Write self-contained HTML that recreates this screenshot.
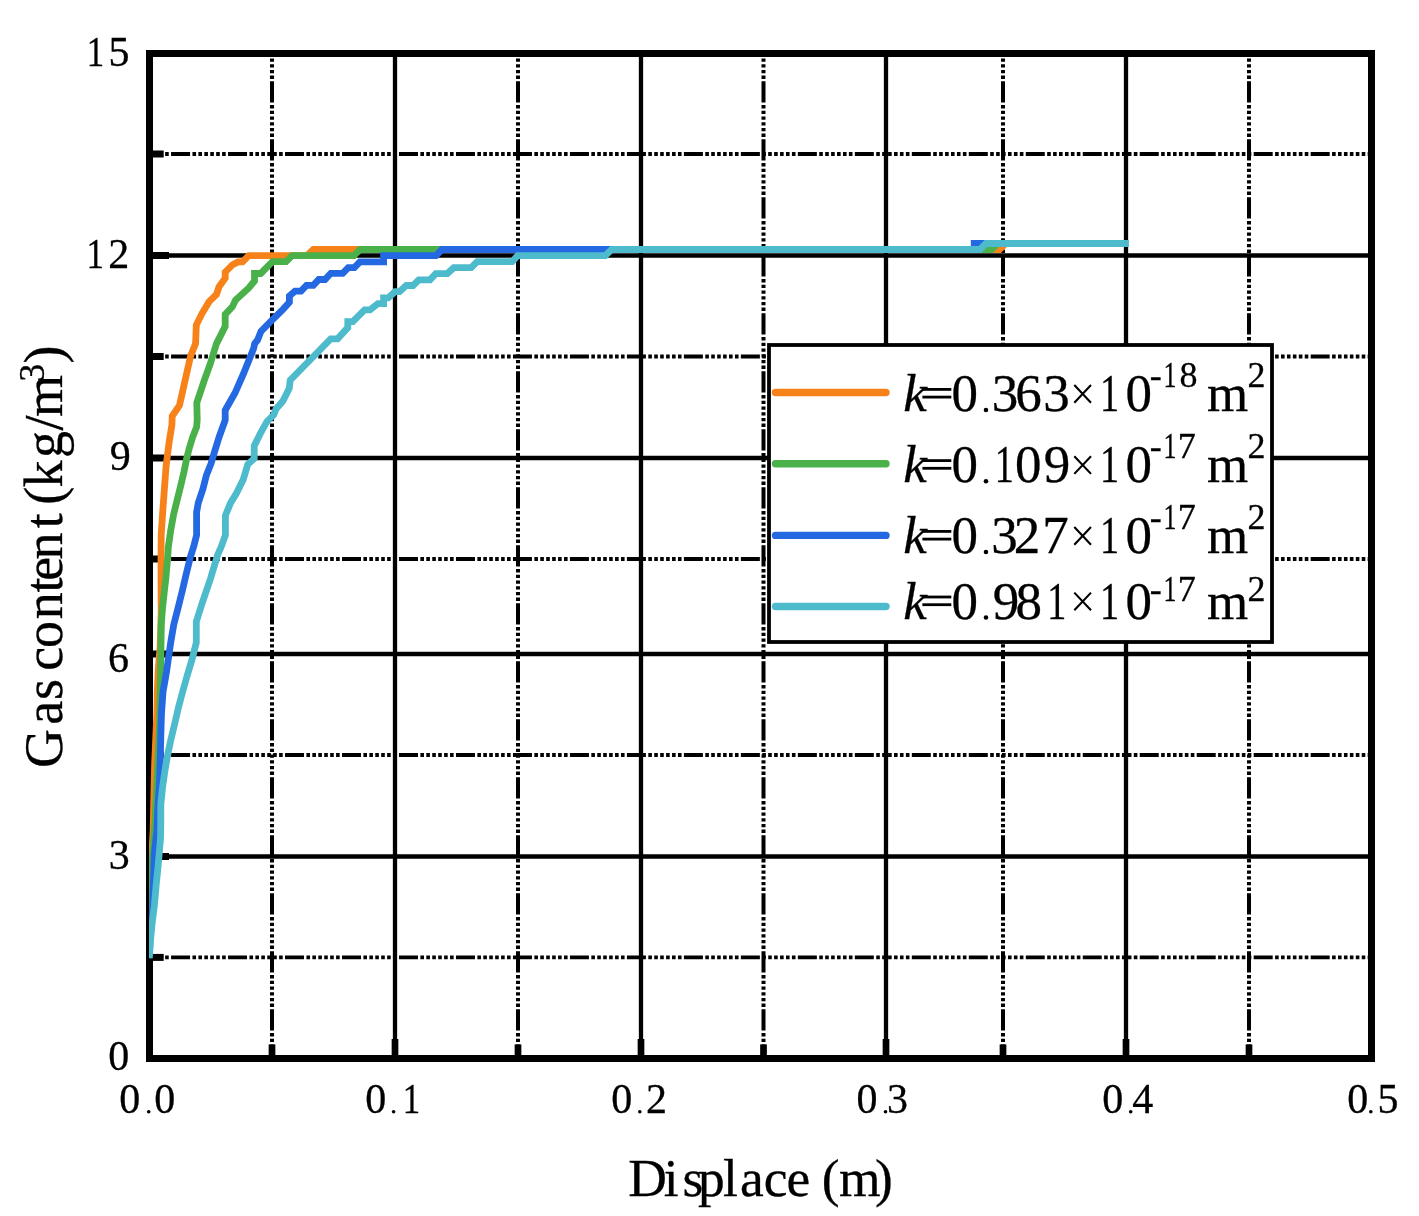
<!DOCTYPE html>
<html><head><meta charset="utf-8"><title>Gas content vs displace</title>
<style>
html,body{margin:0;padding:0;background:#fff;}
body{width:1419px;height:1216px;overflow:hidden;}
svg{display:block;will-change:transform;}
text{font-family:"Liberation Serif",serif;fill:#000;stroke:#000;stroke-width:0.3px;}
</style></head>
<body>
<svg width="1419" height="1216" viewBox="0 0 1419 1216">
<rect x="0" y="0" width="1419" height="1216" fill="#fff"/>
<line x1="149.5" y1="154" x2="1371.5" y2="154" stroke="#000" stroke-width="3.8" stroke-dasharray="19 2.4 3.6 2.33 3.6 2.33 3.6 2.33 3.6 2.33 3.6 2.33 3.6 2.33" stroke-dashoffset="35.41"/>
<line x1="149.5" y1="356.5" x2="1371.5" y2="356.5" stroke="#000" stroke-width="3.8" stroke-dasharray="19 2.4 3.6 2.33 3.6 2.33 3.6 2.33 3.6 2.33 3.6 2.33 3.6 2.33" stroke-dashoffset="35.41"/>
<line x1="149.5" y1="559" x2="1371.5" y2="559" stroke="#000" stroke-width="3.8" stroke-dasharray="19 2.4 3.6 2.33 3.6 2.33 3.6 2.33 3.6 2.33 3.6 2.33 3.6 2.33" stroke-dashoffset="35.41"/>
<line x1="149.5" y1="755" x2="1371.5" y2="755" stroke="#000" stroke-width="3.8" stroke-dasharray="19 2.4 3.6 2.33 3.6 2.33 3.6 2.33 3.6 2.33 3.6 2.33 3.6 2.33" stroke-dashoffset="35.41"/>
<line x1="149.5" y1="957.4" x2="1371.5" y2="957.4" stroke="#000" stroke-width="3.8" stroke-dasharray="19 2.4 3.6 2.33 3.6 2.33 3.6 2.33 3.6 2.33 3.6 2.33 3.6 2.33" stroke-dashoffset="35.41"/>
<line x1="272" y1="53.5" x2="272" y2="1058.5" stroke="#000" stroke-width="4" stroke-dasharray="21.3 2.5 3.3 2.4 3.3 2.4 3.3 2.4 3.3 2.4 3.3 2.4 3.3 2.4" stroke-dashoffset="30.20"/>
<line x1="518" y1="53.5" x2="518" y2="1058.5" stroke="#000" stroke-width="4" stroke-dasharray="21.3 2.5 3.3 2.4 3.3 2.4 3.3 2.4 3.3 2.4 3.3 2.4 3.3 2.4" stroke-dashoffset="30.20"/>
<line x1="763.5" y1="53.5" x2="763.5" y2="1058.5" stroke="#000" stroke-width="4" stroke-dasharray="21.3 2.5 3.3 2.4 3.3 2.4 3.3 2.4 3.3 2.4 3.3 2.4 3.3 2.4" stroke-dashoffset="30.20"/>
<line x1="1003" y1="53.5" x2="1003" y2="1058.5" stroke="#000" stroke-width="4" stroke-dasharray="21.3 2.5 3.3 2.4 3.3 2.4 3.3 2.4 3.3 2.4 3.3 2.4 3.3 2.4" stroke-dashoffset="30.20"/>
<line x1="1249" y1="53.5" x2="1249" y2="1058.5" stroke="#000" stroke-width="4" stroke-dasharray="21.3 2.5 3.3 2.4 3.3 2.4 3.3 2.4 3.3 2.4 3.3 2.4 3.3 2.4" stroke-dashoffset="30.20"/>
<line x1="149.5" y1="255.5" x2="1371.5" y2="255.5" stroke="#000" stroke-width="4.6"/>
<line x1="149.5" y1="458" x2="1371.5" y2="458" stroke="#000" stroke-width="4.6"/>
<line x1="149.5" y1="654" x2="1371.5" y2="654" stroke="#000" stroke-width="4.6"/>
<line x1="149.5" y1="856.5" x2="1371.5" y2="856.5" stroke="#000" stroke-width="4.6"/>
<line x1="395" y1="53.5" x2="395" y2="1058.5" stroke="#000" stroke-width="4.3"/>
<line x1="641" y1="53.5" x2="641" y2="1058.5" stroke="#000" stroke-width="4.3"/>
<line x1="886" y1="53.5" x2="886" y2="1058.5" stroke="#000" stroke-width="4.3"/>
<line x1="1126" y1="53.5" x2="1126" y2="1058.5" stroke="#000" stroke-width="4.3"/>
<rect x="149.5" y="53.5" width="1222.0" height="1005.0" fill="none" stroke="#000" stroke-width="7"/>
<line x1="146" y1="255.5" x2="169" y2="255.5" stroke="#000" stroke-width="7"/>
<line x1="146" y1="458" x2="169" y2="458" stroke="#000" stroke-width="7"/>
<line x1="146" y1="654" x2="169" y2="654" stroke="#000" stroke-width="7"/>
<line x1="146" y1="856.5" x2="169" y2="856.5" stroke="#000" stroke-width="7"/>
<line x1="146" y1="154" x2="163.7" y2="154" stroke="#000" stroke-width="7"/>
<line x1="146" y1="356.5" x2="163.7" y2="356.5" stroke="#000" stroke-width="7"/>
<line x1="146" y1="559" x2="163.7" y2="559" stroke="#000" stroke-width="7"/>
<line x1="146" y1="755" x2="163.7" y2="755" stroke="#000" stroke-width="7"/>
<line x1="146" y1="957.4" x2="163.7" y2="957.4" stroke="#000" stroke-width="7"/>
<line x1="395" y1="1062" x2="395" y2="1039" stroke="#000" stroke-width="6.7"/>
<line x1="641" y1="1062" x2="641" y2="1039" stroke="#000" stroke-width="6.7"/>
<line x1="886" y1="1062" x2="886" y2="1039" stroke="#000" stroke-width="6.7"/>
<line x1="1126" y1="1062" x2="1126" y2="1039" stroke="#000" stroke-width="6.7"/>
<line x1="272" y1="1062" x2="272" y2="1044.4" stroke="#000" stroke-width="6.7"/>
<line x1="518" y1="1062" x2="518" y2="1044.4" stroke="#000" stroke-width="6.7"/>
<line x1="763.5" y1="1062" x2="763.5" y2="1044.4" stroke="#000" stroke-width="6.7"/>
<line x1="1003" y1="1062" x2="1003" y2="1044.4" stroke="#000" stroke-width="6.7"/>
<line x1="1249" y1="1062" x2="1249" y2="1044.4" stroke="#000" stroke-width="6.7"/>
<defs><clipPath id="pa"><rect x="149" y="50" width="1226" height="1012"/></clipPath></defs>
<g clip-path="url(#pa)" fill="none" stroke-width="6.8" stroke-linejoin="miter" stroke-miterlimit="2" stroke-linecap="butt">
<polyline points="149.5,955.0 150.0,900.0 151.5,860.0 153.2,830.0 153.8,799.4 154.6,764.9 155.7,739.5 156.9,713.0 157.3,692.0 158.2,670.0 160.1,647.1 161.2,612.6 161.0,560.0 161.2,535.0 162.7,512.0 164.4,489.0 166.1,466.0 169.0,443.0 171.9,425.0 172.2,416.0 179.5,405.3 184.5,383.1 190.6,356.0 195.6,343.6 196.3,325.1 201.7,314.0 209.1,301.7 216.5,294.3 219.0,286.9 225.2,278.2 225.2,272.1 232.6,264.7 238.0,261.9 242.5,261.9 248.7,255.6 306.9,255.6 313.3,249.5 999.5,249.5 1005.5,243.5" stroke="#F8821A"/>
<polyline points="149.5,955.0 150.0,900.0 152.0,865.0 154.5,830.0 156.3,793.7 158.0,759.0 159.7,722.0 160.3,690.0 160.9,656.0 161.0,641.8 161.3,624.5 162.6,607.3 164.5,590.0 165.9,578.0 167.7,557.0 168.4,546.6 170.7,530.5 173.6,514.4 177.0,500.6 180.5,486.7 184.0,471.8 186.8,458.0 189.1,448.8 192.6,437.3 196.6,427.0 197.2,420.0 196.8,402.8 204.2,380.6 210.4,363.4 216.5,343.6 225.2,326.4 225.2,314.3 232.3,306.9 235.6,300.0 248.8,288.0 254.5,281.0 254.5,273.5 260.7,273.5 272.5,261.7 286.0,261.7 292.0,255.6 353.9,255.6 360.0,249.5 991.5,249.5 997.5,243.5" stroke="#4AB04A"/>
<polyline points="149.5,955.0 150.5,925.0 152.6,912.0 153.2,889.0 154.3,854.6 156.9,830.0 158.0,805.0 159.5,782.0 160.3,759.0 160.8,736.0 161.5,713.0 163.0,692.0 166.5,672.0 168.7,656.2 170.8,641.8 173.8,624.5 178.2,607.3 182.5,590.0 185.5,577.0 190.4,557.0 193.7,546.6 196.6,535.1 196.6,512.1 198.3,502.9 202.9,489.0 206.4,475.2 211.0,463.7 214.4,452.2 219.0,437.3 225.2,420.1 225.2,410.2 235.0,393.0 243.7,373.2 253.6,348.6 254.7,343.5 257.6,340.0 261.0,331.3 270.8,321.4 283.2,309.1 289.4,302.2 289.4,296.0 295.0,291.2 301.0,291.2 306.5,285.4 313.3,285.4 318.8,279.5 325.0,279.5 330.8,273.3 342.7,273.3 348.3,267.6 354.3,267.6 359.9,261.8 383.6,261.8 383.6,255.6 436.0,255.6 442.0,249.5 974.2,249.5 974.2,243.5 990.0,243.5" stroke="#2469E2"/>
<polyline points="149.5,955.0 150.4,941.0 152.1,923.7 154.4,905.3 156.2,884.6 157.9,868.4 159.6,848.8 160.6,837.0 160.8,820.8 160.8,804.4 162.5,787.9 164.8,771.5 167.4,756.2 170.4,741.8 174.5,724.5 178.5,707.3 183.1,690.0 187.1,675.9 192.3,658.6 196.3,642.5 196.3,621.8 202.1,603.3 210.7,578.0 217.6,555.0 221.3,546.6 225.4,535.1 225.4,515.5 230.6,502.9 236.3,493.6 243.2,479.8 247.8,464.3 254.2,458.5 254.2,445.9 259.9,434.4 266.8,421.7 273.7,414.8 276.0,409.0 282.9,401.0 289.3,388.3 290.2,380.2 330.7,338.9 337.6,338.9 347.8,327.6 347.8,321.6 352.8,321.6 364.6,309.8 370.0,309.8 377.9,303.6 383.6,303.6 383.6,297.9 388.2,297.9 395.0,291.7 399.5,291.7 406.3,285.5 413.1,285.5 418.8,279.9 430.0,279.9 435.8,273.6 447.3,273.6 453.8,267.7 471.2,267.7 477.2,261.7 512.3,261.7 517.6,255.6 605.3,255.6 611.6,249.5 980.0,249.5 986.0,243.5 1125.5,243.5" stroke="#4EBBCC" stroke-linecap="square"/>
</g>
<rect x="769" y="345" width="503" height="297" fill="#fff" stroke="#000" stroke-width="3.8"/>
<line x1="775.5" y1="392.5" x2="886" y2="392.5" stroke="#F8821A" stroke-width="7.4" stroke-linecap="round"/>
<text x="903.27" y="411.00" font-size="53" font-style="italic">k</text>
<rect x="922.4" y="388.0" width="28.9" height="2.8" fill="#000"/>
<rect x="922.4" y="395.7" width="28.9" height="2.8" fill="#000"/>
<text x="951.38" y="411.00" font-size="53">0</text>
<circle cx="985.98" cy="409.97" r="2.28" fill="#000"/>
<text x="991.76" y="411.00" font-size="53">3</text>
<text x="1015.32" y="411.00" font-size="53">6</text>
<text x="1043.16" y="411.00" font-size="53">3</text>
<text x="1098.74" y="411.00" font-size="53" transform="translate(1103.40,0) scale(0.72,1) translate(-1103.40,0)">1</text>
<text x="1125.58" y="411.00" font-size="53">0</text>
<path d="M1074.3,385.0 L1091.0,402.7 M1091.0,385.0 L1074.3,402.7" stroke="#000" stroke-width="2.1" fill="none"/>
<text x="1149.86" y="387.10" font-size="36">-</text>
<text x="1162.64" y="387.10" font-size="36" transform="translate(1165.80,0) scale(0.72,1) translate(-1165.80,0)">1</text>
<text x="1179.53" y="387.10" font-size="36">8</text>
<text x="1206.99" y="411.00" font-size="53">m</text>
<text x="1247.42" y="387.10" font-size="36">2</text>
<line x1="775.5" y1="463.7" x2="886" y2="463.7" stroke="#4AB04A" stroke-width="7.4" stroke-linecap="round"/>
<text x="903.27" y="482.20" font-size="53" font-style="italic">k</text>
<rect x="922.4" y="459.2" width="28.9" height="2.8" fill="#000"/>
<rect x="922.4" y="466.9" width="28.9" height="2.8" fill="#000"/>
<text x="951.38" y="482.20" font-size="53">0</text>
<circle cx="985.98" cy="481.17" r="2.28" fill="#000"/>
<text x="993.34" y="482.20" font-size="53" transform="translate(998.00,0) scale(0.72,1) translate(-998.00,0)">1</text>
<text x="1014.98" y="482.20" font-size="53">0</text>
<text x="1043.79" y="482.20" font-size="53">9</text>
<text x="1098.74" y="482.20" font-size="53" transform="translate(1103.40,0) scale(0.72,1) translate(-1103.40,0)">1</text>
<text x="1125.58" y="482.20" font-size="53">0</text>
<path d="M1074.3,456.2 L1091.0,473.9 M1091.0,456.2 L1074.3,473.9" stroke="#000" stroke-width="2.1" fill="none"/>
<text x="1149.86" y="458.00" font-size="36">-</text>
<text x="1162.64" y="458.00" font-size="36" transform="translate(1165.80,0) scale(0.72,1) translate(-1165.80,0)">1</text>
<text x="1177.63" y="458.00" font-size="36">7</text>
<text x="1206.99" y="482.20" font-size="53">m</text>
<text x="1247.42" y="458.00" font-size="36">2</text>
<line x1="775.5" y1="535.4" x2="886" y2="535.4" stroke="#2469E2" stroke-width="7.4" stroke-linecap="round"/>
<text x="903.27" y="553.00" font-size="53" font-style="italic">k</text>
<rect x="922.4" y="530.0" width="28.9" height="2.8" fill="#000"/>
<rect x="922.4" y="537.7" width="28.9" height="2.8" fill="#000"/>
<text x="951.38" y="553.00" font-size="53">0</text>
<circle cx="985.98" cy="551.97" r="2.28" fill="#000"/>
<text x="991.16" y="553.00" font-size="53">3</text>
<text x="1013.67" y="553.00" font-size="53">2</text>
<text x="1042.31" y="553.00" font-size="53">7</text>
<text x="1098.74" y="553.00" font-size="53" transform="translate(1103.40,0) scale(0.72,1) translate(-1103.40,0)">1</text>
<text x="1125.58" y="553.00" font-size="53">0</text>
<path d="M1074.3,527.0 L1091.0,544.7 M1091.0,527.0 L1074.3,544.7" stroke="#000" stroke-width="2.1" fill="none"/>
<text x="1149.86" y="528.90" font-size="36">-</text>
<text x="1162.64" y="528.90" font-size="36" transform="translate(1165.80,0) scale(0.72,1) translate(-1165.80,0)">1</text>
<text x="1177.63" y="528.90" font-size="36">7</text>
<text x="1206.99" y="553.00" font-size="53">m</text>
<text x="1247.42" y="528.90" font-size="36">2</text>
<line x1="775.5" y1="606.5" x2="886" y2="606.5" stroke="#4EBBCC" stroke-width="7.4" stroke-linecap="round"/>
<text x="903.27" y="618.60" font-size="53" font-style="italic">k</text>
<rect x="922.4" y="595.6" width="28.9" height="2.8" fill="#000"/>
<rect x="922.4" y="603.3" width="28.9" height="2.8" fill="#000"/>
<text x="951.38" y="618.60" font-size="53">0</text>
<circle cx="985.98" cy="617.57" r="2.28" fill="#000"/>
<text x="992.69" y="618.60" font-size="53">9</text>
<text x="1015.58" y="618.60" font-size="53">8</text>
<text x="1046.04" y="618.60" font-size="53" transform="translate(1050.70,0) scale(0.72,1) translate(-1050.70,0)">1</text>
<text x="1098.74" y="618.60" font-size="53" transform="translate(1103.40,0) scale(0.72,1) translate(-1103.40,0)">1</text>
<text x="1125.58" y="618.60" font-size="53">0</text>
<path d="M1074.3,592.6 L1091.0,610.3 M1091.0,592.6 L1074.3,610.3" stroke="#000" stroke-width="2.1" fill="none"/>
<text x="1149.86" y="601.10" font-size="36">-</text>
<text x="1162.64" y="601.10" font-size="36" transform="translate(1165.80,0) scale(0.72,1) translate(-1165.80,0)">1</text>
<text x="1177.63" y="601.10" font-size="36">7</text>
<text x="1206.99" y="618.60" font-size="53">m</text>
<text x="1247.42" y="601.10" font-size="36">2</text>
<text x="86.11" y="65.60" font-size="42" transform="translate(89.80,0) scale(0.83,1) translate(-89.80,0)">1</text>
<text x="108.46" y="65.60" font-size="42">5</text>
<text x="85.91" y="268.00" font-size="42" transform="translate(89.60,0) scale(0.83,1) translate(-89.60,0)">1</text>
<text x="108.15" y="268.00" font-size="42">2</text>
<text x="109.65" y="469.60" font-size="42">9</text>
<text x="108.10" y="671.60" font-size="42">6</text>
<text x="108.79" y="868.50" font-size="42">3</text>
<text x="108.30" y="1070.40" font-size="42">0</text>
<text x="119.30" y="1112.60" font-size="42">0</text>
<circle cx="148.71" cy="1111.79" r="1.81" fill="#000"/>
<text x="154.30" y="1112.60" font-size="42">0</text>
<text x="365.30" y="1112.60" font-size="42">0</text>
<circle cx="393.61" cy="1111.79" r="1.81" fill="#000"/>
<text x="402.21" y="1112.60" font-size="42" transform="translate(405.90,0) scale(0.83,1) translate(-405.90,0)">1</text>
<text x="611.30" y="1112.60" font-size="42">0</text>
<circle cx="639.81" cy="1111.79" r="1.81" fill="#000"/>
<text x="646.05" y="1112.60" font-size="42">2</text>
<text x="856.40" y="1112.60" font-size="42">0</text>
<circle cx="885.51" cy="1111.79" r="1.81" fill="#000"/>
<text x="886.99" y="1112.60" font-size="42">3</text>
<text x="1102.30" y="1112.60" font-size="42">0</text>
<circle cx="1130.71" cy="1111.79" r="1.81" fill="#000"/>
<text x="1132.18" y="1112.60" font-size="42">4</text>
<text x="1347.30" y="1112.60" font-size="42">0</text>
<circle cx="1370.81" cy="1111.79" r="1.81" fill="#000"/>
<text x="1377.56" y="1112.60" font-size="42">5</text>
<text x="628.36" y="1196.00" font-size="53.5">D</text>
<text x="663.78" y="1196.00" font-size="53.5">i</text>
<text x="682.41" y="1196.00" font-size="53.5">s</text>
<text x="698.04" y="1196.00" font-size="53.5">p</text>
<text x="722.93" y="1196.00" font-size="53.5">l</text>
<text x="740.12" y="1196.00" font-size="53.5">a</text>
<text x="763.86" y="1196.00" font-size="53.5">c</text>
<text x="786.61" y="1196.00" font-size="53.5">e</text>
<text x="821.65" y="1196.00" font-size="53.5">(</text>
<text x="839.08" y="1196.00" font-size="53.5">m</text>
<text x="875.08" y="1196.00" font-size="53.5">)</text>
<g transform="rotate(-90)">
<text x="-768.01" y="62.00" font-size="54">G</text>
<text x="-724.70" y="62.00" font-size="54">a</text>
<text x="-699.91" y="62.00" font-size="54">s</text>
<text x="-670.86" y="62.00" font-size="54">c</text>
<text x="-647.96" y="62.00" font-size="54">o</text>
<text x="-619.34" y="62.00" font-size="54">n</text>
<text x="-592.53" y="62.00" font-size="54">t</text>
<text x="-580.71" y="62.00" font-size="54">e</text>
<text x="-559.54" y="62.00" font-size="54">n</text>
<text x="-528.23" y="62.00" font-size="54">t</text>
<text x="-504.87" y="62.00" font-size="54">(</text>
<text x="-487.53" y="62.00" font-size="54">k</text>
<text x="-458.12" y="62.00" font-size="54">g</text>
<text x="-430.60" y="62.00" font-size="54">/</text>
<text x="-416.93" y="62.00" font-size="54">m</text>
<text x="-363.54" y="62.00" font-size="54">)</text>
<text x="-381.72" y="43.50" font-size="36">3</text>
</g>
</svg>
</body></html>
